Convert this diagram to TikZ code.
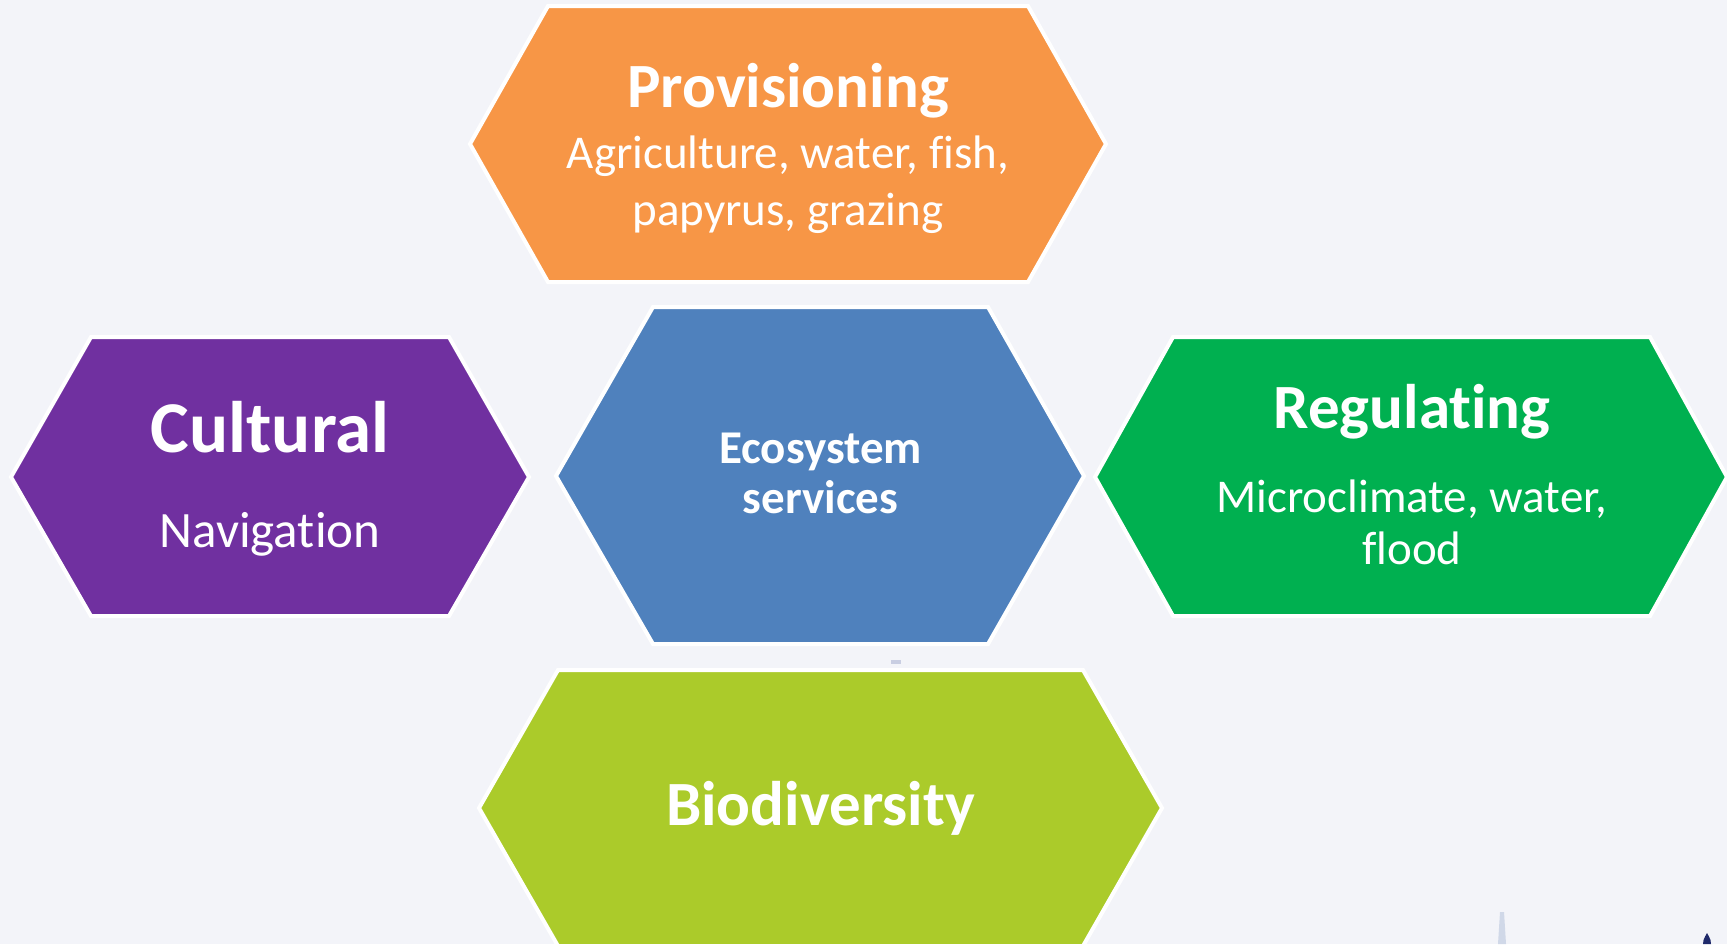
\documentclass[tikz,border=0pt]{standalone}
\usepackage{fontspec}
\setmainfont{Carlito}[Ligatures={NoCommon,NoContextual}]
\definecolor{bg}{HTML}{F3F4F9}
\definecolor{cprov}{HTML}{F79646}
\definecolor{ccult}{HTML}{7030A0}
\definecolor{ceco}{HTML}{4F81BD}
\definecolor{creg}{HTML}{00B050}
\definecolor{cbio}{HTML}{ABCB2A}
\definecolor{cspike}{HTML}{D0D8E8}
\definecolor{cdot}{HTML}{1F2A6B}
\definecolor{cdash}{HTML}{C9CEE2}
\begin{document}
\begin{tikzpicture}[x=0.5pt,y=-0.5pt,
  hex/.style={draw=white,line width=2pt,line join=miter},
  title/.style={text=white,font=\bfseries\fontsize{31.5}{37}\selectfont,anchor=base,inner sep=0pt},
  sub/.style={text=white,font=\fontsize{23.5}{28}\selectfont,anchor=base,inner sep=0pt}]
\useasboundingbox (0,0) rectangle (1727,944);
\clip (0,0) rectangle (1727,944);
\fill[bg] (0,0) rectangle (1727,944);
% hexagons
\path[hex,fill=cprov] (470,144) -- (548,6) -- (1028,6) -- (1106,144) -- (1028,282) -- (548,282) -- cycle;
\path[hex,fill=ccult] (11,477) -- (91,337) -- (449,337) -- (529,477) -- (449,616) -- (91,616) -- cycle;
\path[hex,fill=ceco] (556,476) -- (653,307) -- (988,307) -- (1084,476) -- (988,644) -- (653,644) -- cycle;
\path[hex,fill=creg] (1095,477) -- (1173,337) -- (1650,337) -- (1727,477) -- (1650,616) -- (1173,616) -- cycle;
\path[hex,fill=cbio] (479,808) -- (558,670) -- (1083,670) -- (1162,808) -- (1083,946) -- (558,946) -- cycle;
% texts
\node[title] (prov) at (788,107) {Provisioning};
\node[sub] (prov1) at (788,168) {Agriculture, water, fish,};
\node[sub] (prov2) at (788,225) {papyrus, grazing};
\node[title,font=\bfseries\fontsize{36.5}{43}\selectfont] (cult) at (270,452) {Cultural};
\node[sub,font=\fontsize{25.5}{30}\selectfont] (cult1) at (270,547) {Navigation};
\node[title,font=\bfseries\fontsize{23.5}{28}\selectfont] (eco1) at (820.5,463) {Ecosystem};
\node[title,font=\bfseries\fontsize{23.5}{28}\selectfont] (eco2) at (820.5,513) {services};
\node[title] (reg) at (1412,428) {Regulating};
\node[sub] (reg1) at (1412,512) {Microclimate, water,};
\node[sub] (reg2) at (1412,564) {flood};
\node[title] (bio) at (820.5,825) {Biodiversity};
% small marks
\fill[cdash] (891,660) rectangle (901,664);
\fill[cspike] (1498,944) -- (1500,912) -- (1504,912) -- (1506,944) -- cycle;
\fill[cdot] (1703,944) -- (1703.5,940) .. controls (1704.5,937) and (1706,935) .. (1707,933) .. controls (1708,935) and (1709.5,937) .. (1710.5,940) -- (1711,944) -- cycle;
\end{tikzpicture}
\end{document}
